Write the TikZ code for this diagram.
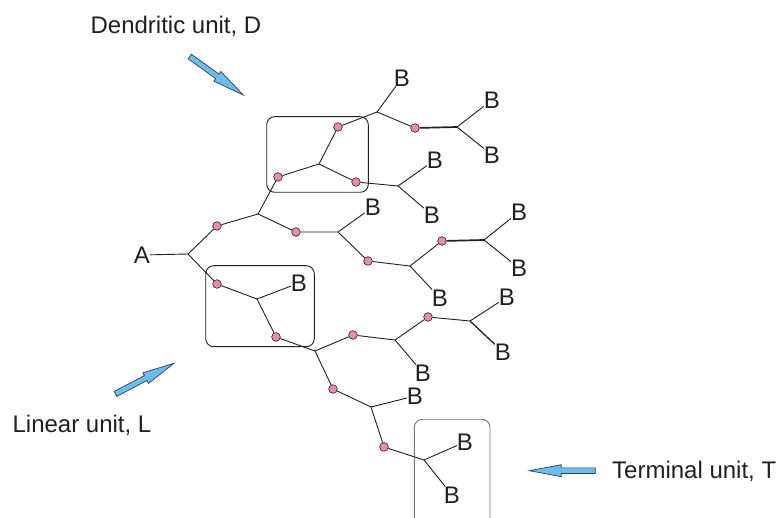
\documentclass[tikz,border=0pt]{standalone}
\usepackage{fontspec}
\setmainfont{Liberation Sans}
\definecolor{linec}{RGB}{35,31,32}
\definecolor{textc}{RGB}{35,31,32}
\definecolor{dotpink}{RGB}{236,137,180}
\definecolor{arrowblue}{RGB}{105,190,238}
\definecolor{arrowedge}{RGB}{60,60,70}
\definecolor{tboxc}{RGB}{120,120,120}
\tikzset{
  barrow/.pic={\draw[blockarrow] (0,0) -- (-32,-6) -- (-32,-2.8) -- (-66,-2.8) -- (-66,2.8) -- (-32,2.8) -- (-32,6) -- cycle;}
}
\begin{document}
\begin{tikzpicture}[x=1pt,y=-1pt,
  line/.style={draw=linec, line width=0.9pt},
  heavy/.style={draw=linec, line width=1.7pt},
  dot/.style={circle, fill=dotpink, draw=linec, line width=0.6pt, inner sep=0pt, minimum size=8.6pt},
  lbl/.style={inner sep=0pt, font=\fontsize{24}{28}\selectfont, text=textc},
  unitbox/.style={draw=linec, line width=0.9pt, rounded corners=8pt},
  blockarrow/.style={fill=arrowblue, draw=arrowedge, line width=0.7pt, line join=miter}]
\useasboundingbox (0,0) rectangle (780,518);

% unit boxes
\draw[unitbox] (266.7,116.7) rectangle (368.3,192.3);
\draw[unitbox] (205.7,265.7) rectangle (314.3,346.7);
\draw[unitbox, draw=tboxc] (414.3,518) -- (414.3,419.3) -- (490,419.3) -- (490,518);

% junctions
\coordinate (J0) at (188,254);
\coordinate (J1) at (258,214);
\coordinate (J2) at (319,164);
\coordinate (J3) at (377,112);
\coordinate (J4) at (398,186);
\coordinate (J5) at (338,232);
\coordinate (J6) at (410,266);
\coordinate (J7) at (457,127);
\coordinate (J8) at (484,240);
\coordinate (J9) at (470,321);
\coordinate (J10) at (395,340);
\coordinate (J11) at (424,460);
\coordinate (J12) at (257,299);
\coordinate (J13) at (315,351);
\coordinate (J14) at (371,407);

% dots
\node[dot] (d1) at (217,226) {};
\node[dot] (d2) at (278,177) {};
\node[dot] (d3) at (338,127) {};
\node[dot] (d4) at (415,128) {};
\node[dot] (d5) at (356,182) {};
\node[dot] (d6) at (296,232) {};
\node[dot] (d7) at (368,261) {};
\node[dot] (d8) at (217,284) {};
\node[dot] (d9) at (442,241) {};
\node[dot] (d10) at (428,317) {};
\node[dot] (d11) at (384,447) {};
\node[dot] (d12) at (276,337) {};
\node[dot] (d13) at (353,335) {};
\node[dot] (d14) at (333,389) {};

% labels
\node[lbl] (A) at (142,255) {A};
\node[lbl] (b1) at (402,78) {B};
\node[lbl] (b2) at (492,100) {B};
\node[lbl] (b3) at (492,155) {B};
\node[lbl] (b4) at (435,160) {B};
\node[lbl] (b5) at (432,215) {B};
\node[lbl] (b6) at (373,207) {B};
\node[lbl] (b7) at (519,212) {B};
\node[lbl] (b8) at (519,268) {B};
\node[lbl] (b9) at (440,298) {B};
\node[lbl] (b10) at (507,297) {B};
\node[lbl] (b11) at (503,352) {B};
\node[lbl] (b12) at (423,373) {B};
\node[lbl] (b13) at (299,283) {B};
\node[lbl] (b14) at (415,396) {B};
\node[lbl] (b15) at (465,442) {B};
\node[lbl] (b16) at (452,495) {B};

% connectors
\draw[line] (A) -- (J0);
\draw[line] (J0) -- (d1) (d1) -- (J1);
\draw[line] (J1) -- (d2) (d2) -- (J2);
\draw[line] (J2) -- (d3) (d3) -- (J3);
\draw[line] (J3) -- (b1);
\draw[line] (J3) -- (d4);
\draw[heavy] (d4) -- (J7);
\draw[line] (J7) -- (b2);
\draw[line] (J7) -- (b3);
\draw[line] (J2) -- (d5) (d5) -- (J4);
\draw[line] (J4) -- (b4);
\draw[line] (J4) -- (b5);
\draw[line] (J1) -- (d6) (d6) -- (J5);
\draw[line] (J5) -- (b6);
\draw[line] (J5) -- (d7) (d7) -- (J6);
\draw[line] (J6) -- (b9);
\draw[line] (J6) -- (d9);
\draw[heavy] (d9) -- (J8);
\draw[line] (J8) -- (b7);
\draw[line] (J8) -- (b8);
\draw[line] (J0) -- (d8) (d8) -- (J12);
\draw[line] (J12) -- (b13);
\draw[line] (J12) -- (d12) (d12) -- (J13);
\draw[line] (J13) -- (d13) (d13) -- (J10);
\draw[line] (J10) -- (b12);
\draw[line] (J10) -- (d10) (d10) -- (J9);
\draw[line] (J9) -- (b10);
\draw[heavy, line width=1.3pt] (J9) -- (b11);
\draw[line] (J13) -- (d14) (d14) -- (J14);
\draw[line] (J14) -- (b14);
\draw[line] (J14) -- (d11) (d11) -- (J11);
\draw[line] (J11) -- (b15);
\draw[line] (J11) -- (b16);

% unit captions
\node[lbl, anchor=base] (capD) at (176,33.6) {Dendritic unit, D};
\node[lbl, anchor=base] (capL) at (82,432.6) {Linear unit, L};
\node[lbl, anchor=base west] (capT) at (612,478.6) {Terminal unit, T};

% pointer arrows
\pic[rotate=-35.7] at (243.3,95) {barrow};
\pic[rotate=27.6] at (174,363.3) {barrow};
\pic[rotate=180] at (529.3,470.7) {barrow};
\end{tikzpicture}
\end{document}
